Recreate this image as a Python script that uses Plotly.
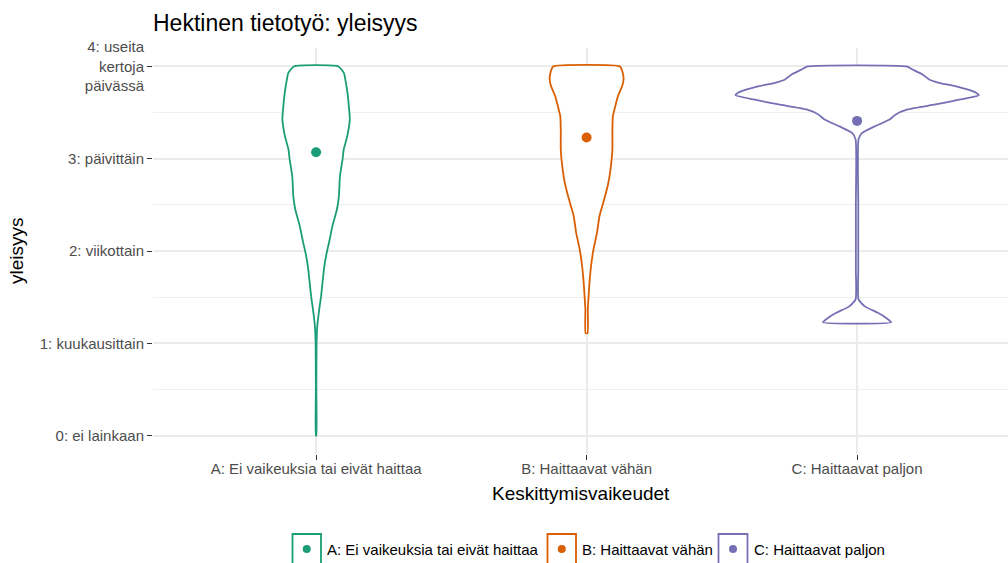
import plotly.graph_objects as go

# ---------------- data ----------------
categories = ["A: Ei vaikeuksia tai eivät haittaa", "B: Haittaavat vähän", "C: Haittaavat paljon"]
colors = ["#1B9E77", "#D95F02", "#7570B3"]
y_tick_values = [0, 1, 2, 3, 4]
y_tick_labels = ["0: ei lainkaan", "1: kuukausittain", "2: viikottain", "3: päivittäin",
                 "4: useita<br>kertoja<br>päivässä"]
means = [3.07, 3.23, 3.41]

# violin density profiles (relative density, widest = 1.0), top to bottom
a_levels = [4.0, 3.93, 3.86, 3.71, 3.57, 3.43, 3.25, 3.10, 3.0, 2.81, 2.59, 2.45, 2.27, 2.09,
            2.0, 1.84, 1.66, 1.51, 1.40, 1.19, 1.0, 0.5, 0.0]
a_density = [0.183, 0.228, 0.240, 0.258, 0.269, 0.277, 0.257, 0.227, 0.218, 0.196, 0.187, 0.171,
             0.134, 0.106, 0.090, 0.068, 0.053, 0.041, 0.029, 0.010, 0.004, 0.002, 0.002]

b_levels = [4.0, 3.95, 3.87, 3.79, 3.68, 3.57, 3.46, 3.3, 3.1, 2.88, 2.74, 2.56, 2.38, 2.2,
            2.02, 1.84, 1.66, 1.5, 1.37, 1.11]
b_density = [0.275, 0.293, 0.304, 0.293, 0.258, 0.236, 0.216, 0.212, 0.212, 0.196, 0.179, 0.145,
             0.106, 0.086, 0.057, 0.037, 0.024, 0.016, 0.010, 0.008]

c_levels = [4.0, 3.967, 3.913, 3.859, 3.823, 3.787, 3.751, 3.715, 3.689, 3.642, 3.588, 3.534,
            3.48, 3.425, 3.35, 3.28, 3.21, 2.5, 1.8, 1.475, 1.40, 1.33, 1.275, 1.228]
c_density = [0.407, 0.456, 0.538, 0.592, 0.674, 0.807, 0.905, 0.978, 1.0, 0.848, 0.644, 0.416,
             0.318, 0.267, 0.144, 0.041, 0.012, 0.010, 0.010, 0.012, 0.063, 0.171, 0.239, 0.280]

profiles = [(a_levels, a_density), (b_levels, b_density), (c_levels, c_density)]

# ---------------- styling ----------------
FONT = "Liberation Sans, Arial, Helvetica, sans-serif"
MAX_HALF = 0.45
W, H = 1008, 563
L, R, T, B = 153, 0, 48, 109
PW, PH = W - L - R, H - T - B

def px_x(p):
    return (p - L) / PW

def px_y(p):
    return (H - B - p) / PH

fig = go.Figure()

for i, (lev, dens) in enumerate(profiles):
    pos = i + 1
    xs = [pos + d * MAX_HALF for d in dens] + [pos - d * MAX_HALF for d in reversed(dens)]
    ys = list(lev) + list(reversed(lev))
    xs.append(xs[0])
    ys.append(ys[0])
    fig.add_trace(go.Scatter(
        x=xs, y=ys, mode="lines", fill="toself", fillcolor="white",
        line=dict(color=colors[i], width=1.8, shape="spline", smoothing=0.5),
        hoverinfo="skip", showlegend=False,
    ))

fig.add_trace(go.Scatter(
    x=[1, 2, 3], y=means, mode="markers",
    marker=dict(color=colors, size=10, line=dict(width=0)),
    hoverinfo="skip", showlegend=False,
))

# manual legend (box with dot + label)
legend_boxes = [(292.5, 321), (547.5, 576), (718.5, 747.5)]
shapes = []
annotations = []
for i, (x0, x1) in enumerate(legend_boxes):
    shapes.append(dict(type="rect", xref="paper", yref="paper",
                       x0=px_x(x0), x1=px_x(x1), y0=px_y(564), y1=px_y(534),
                       line=dict(color=colors[i], width=1.8), fillcolor="white"))
    cx = (x0 + x1) / 2
    shapes.append(dict(type="circle", xref="paper", yref="paper",
                       x0=px_x(cx - 4), x1=px_x(cx + 4), y0=px_y(553), y1=px_y(545),
                       line=dict(color=colors[i], width=0), fillcolor=colors[i]))
    annotations.append(dict(text=categories[i], xref="paper", yref="paper",
                            x=px_x(x1 + 4), y=px_y(549), xanchor="left", yanchor="middle",
                            showarrow=False, font=dict(family=FONT, size=15, color="black")))

# axis titles and plot title
annotations.append(dict(text="Keskittymisvaikeudet", xref="paper", yref="paper",
                        x=0.5, y=px_y(493), xanchor="center", yanchor="middle",
                        showarrow=False, font=dict(family=FONT, size=19, color="black")))
annotations.append(dict(text="yleisyys", xref="paper", yref="paper",
                        x=px_x(16), y=0.5, xanchor="center", yanchor="middle", textangle=-90,
                        showarrow=False, font=dict(family=FONT, size=19, color="black")))
annotations.append(dict(text="Hektinen tietotyö: yleisyys", xref="paper", yref="paper",
                        x=px_x(151), y=px_y(23), xanchor="left", yanchor="middle",
                        showarrow=False, font=dict(family=FONT, size=23, color="black")))

fig.update_layout(
    width=W, height=H,
    margin=dict(l=L, r=R, t=T, b=B),
    paper_bgcolor="white", plot_bgcolor="white",
    font=dict(family=FONT, size=15, color="#4D4D4D"),
    xaxis=dict(range=[0.397, 3.558], tickvals=[1, 2, 3], ticktext=categories,
               showgrid=True, gridcolor="#EBEBEB", gridwidth=1.8, zeroline=False,
               ticks="outside", ticklen=5, tickcolor="#333333", tickwidth=1.2,
               ticklabelstandoff=-4,
               tickfont=dict(family=FONT, size=15, color="#4D4D4D"), showline=False,
               fixedrange=True),
    yaxis=dict(range=[-0.2, 4.2], tickvals=y_tick_values, ticktext=y_tick_labels,
               showgrid=True, gridcolor="#EBEBEB", gridwidth=1.8, zeroline=False,
               ticks="outside", ticklen=5, tickcolor="#333333", tickwidth=1.2,
               tickfont=dict(family=FONT, size=15, color="#4D4D4D"), showline=False,
               minor=dict(tickvals=[0.5, 1.5, 2.5, 3.5], showgrid=True, gridcolor="#F0F0F0",
                          gridwidth=1.0, ticks=""),
               fixedrange=True),
    shapes=shapes,
    annotations=annotations,
    showlegend=False,
)

fig.write_html("out.html", config={"displayModeBar": False},
               post_script="document.body.style.margin='0';")
